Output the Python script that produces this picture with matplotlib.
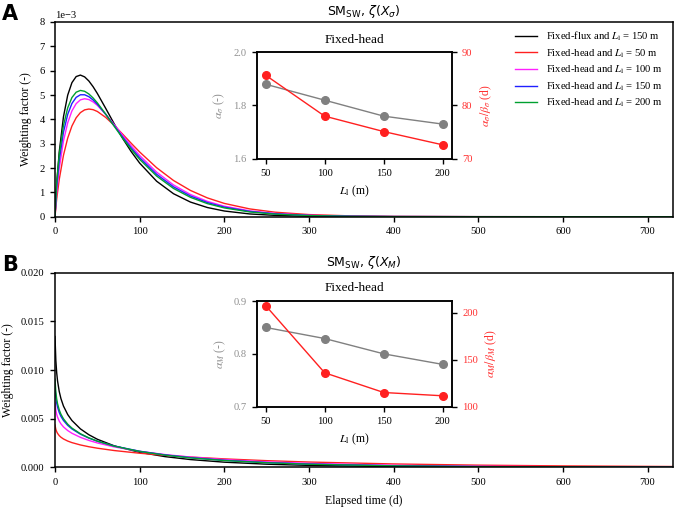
import numpy as np
import matplotlib
matplotlib.use("Agg")
import matplotlib.pyplot as plt

plt.rcParams["font.family"] = ["Liberation Serif", "DejaVu Serif"]
plt.rcParams["mathtext.fontset"] = "stix"

# ---------------- data (weighting factors in units of 1e-3) ----------------
t_A = [0, 2, 5, 10, 15, 20, 25, 30, 35, 40, 45, 50, 60, 70, 80, 90, 100, 120, 140,
       160, 180, 200, 230, 260, 300, 350, 400, 500, 600, 730]
A_flux150 = [0.000, 1.352, 2.659, 4.106, 4.994, 5.508, 5.758, 5.819, 5.745, 5.576,
             5.341, 5.064, 4.445, 3.812, 3.214, 2.675, 2.203, 1.459, 0.944, 0.601,
             0.377, 0.234, 0.113, 0.054, 0.020, 0.005, 0.001, 0.000, 0.000, 0.000]
A_head50 = [0.000, 0.729, 1.529, 2.522, 3.229, 3.727, 4.065, 4.277, 4.390, 4.424,
            4.398, 4.324, 4.077, 3.750, 3.388, 3.018, 2.659, 2.014, 1.488, 1.079,
            0.772, 0.546, 0.320, 0.185, 0.087, 0.033, 0.013, 0.002, 0.000, 0.000]
A_head100 = [0.000, 1.001, 1.979, 3.110, 3.859, 4.347, 4.645, 4.801, 4.847, 4.813,
             4.717, 4.576, 4.208, 3.782, 3.341, 2.914, 2.516, 1.832, 1.304, 0.912,
             0.630, 0.431, 0.240, 0.132, 0.058, 0.021, 0.007, 0.001, 0.000, 0.000]
A_head150 = [0.000, 1.233, 2.306, 3.473, 4.204, 4.653, 4.904, 5.010, 5.010, 4.932,
             4.797, 4.622, 4.200, 3.736, 3.271, 2.830, 2.425, 1.743, 1.227, 0.850,
             0.581, 0.394, 0.217, 0.118, 0.051, 0.018, 0.006, 0.001, 0.000, 0.000]
A_head200 = [0.000, 1.400, 2.545, 3.747, 4.472, 4.897, 5.116, 5.188, 5.153, 5.043,
             4.878, 4.677, 4.210, 3.712, 3.225, 2.769, 2.356, 1.671, 1.161, 0.795,
             0.538, 0.361, 0.195, 0.105, 0.045, 0.015, 0.005, 0.001, 0.000, 0.000]

t_B = [0, 1, 2, 3, 5, 7, 10, 15, 20, 30, 40, 50, 70, 100, 130, 160, 200, 250, 300,
       400, 500, 600, 730]
B_flux150 = [13.446, 10.977, 9.713, 8.883, 7.792, 7.064, 6.293, 5.423, 4.809, 3.950,
             3.346, 2.883, 2.204, 1.535, 1.097, 0.795, 0.526, 0.319, 0.195, 0.075,
             0.029, 0.012, 0.003]
B_head50 = [4.346, 3.901, 3.656, 3.487, 3.255, 3.092, 2.912, 2.697, 2.537, 2.297,
            2.114, 1.964, 1.722, 1.445, 1.229, 1.054, 0.865, 0.682, 0.541, 0.344,
            0.221, 0.143, 0.081]
B_head100 = [6.650, 5.871, 5.444, 5.152, 4.748, 4.466, 4.152, 3.778, 3.498, 3.079,
             2.762, 2.503, 2.094, 1.642, 1.308, 1.052, 0.793, 0.563, 0.403, 0.208,
             0.109, 0.057, 0.025]
B_head150 = [8.334, 7.205, 6.598, 6.186, 5.625, 5.237, 4.812, 4.312, 3.944, 3.404,
             3.002, 2.681, 2.183, 1.651, 1.272, 0.991, 0.718, 0.485, 0.330, 0.156,
             0.074, 0.036, 0.014]
B_head200 = [9.057, 7.722, 7.014, 6.538, 5.897, 5.458, 4.984, 4.432, 4.031, 3.450,
             3.025, 2.689, 2.174, 1.631, 1.249, 0.968, 0.697, 0.468, 0.317, 0.148,
             0.070, 0.033, 0.013]

L_l = [50, 100, 150, 200]
alpha_sigma = [1.88, 1.82, 1.76, 1.73]
mean_sigma = [85.7, 78.0, 75.1, 72.6]
alpha_M = [0.850, 0.829, 0.800, 0.780]
mean_M = [207.7, 136.1, 115.1, 111.6]

legend_labels = [r"Fixed-flux and $L_\mathrm{l}$ = 150 m",
                 r"Fixed-head and $L_\mathrm{l}$ = 50 m",
                 r"Fixed-head and $L_\mathrm{l}$ = 100 m",
                 r"Fixed-head and $L_\mathrm{l}$ = 150 m",
                 r"Fixed-head and $L_\mathrm{l}$ = 200 m"]
colors = ["black", "#ff2020", "#ff20ff", "#2020ff", "#00a030"]

# ---------------- figure ----------------
W, H = 676, 509
fig = plt.figure(figsize=(W / 100, H / 100), dpi=100)

def px_axes(l, t, r, b):
    return [l / W, 1 - b / H, (r - l) / W, (b - t) / H]

TICK = 7.6
LAB = 8.5
axA = fig.add_axes(px_axes(55, 22, 673, 216.7))
axB = fig.add_axes(px_axes(55, 272.7, 673, 467.3))

seriesA = [A_flux150, A_head50, A_head100, A_head150, A_head200]
seriesB = [B_flux150, B_head50, B_head100, B_head150, B_head200]
for ax, tt, ser in [(axA, t_A, seriesA), (axB, t_B, seriesB)]:
    for y, c, lab in zip(ser, colors, legend_labels):
        ax.plot(tt, np.array(y) * 1e-3, color=c, lw=1.0, label=lab)
    ax.set_xlim(0, 730)
    ax.set_xticks([0, 100, 200, 300, 400, 500, 600, 700])
    ax.tick_params(direction="out", length=3.5, width=1.0, labelsize=TICK, pad=4)
    for s in ax.spines.values():
        s.set_linewidth(1.1)
    ax.set_ylabel("Weighting factor (-)", fontsize=LAB, labelpad=5)

axA.set_ylim(0, 8e-3)
axA.set_yticks(np.arange(0, 9) * 1e-3)
axA.ticklabel_format(axis="y", style="sci", scilimits=(-3, -3))
axA.yaxis.get_offset_text().set_fontsize(TICK)
axB.set_ylim(0, 0.02)
axB.set_yticks([0, 0.005, 0.010, 0.015, 0.020])
axB.set_yticklabels(["0.000", "0.005", "0.010", "0.015", "0.020"])
axB.set_xlabel("Elapsed time (d)", fontsize=LAB, labelpad=6)

axA.set_title(r"SM$_\mathrm{SW}$, $\zeta(X_\sigma)$", fontsize=9, pad=5,
              family="DejaVu Sans", math_fontfamily="dejavusans")
axB.set_title(r"SM$_\mathrm{SW}$, $\zeta(X_M)$", fontsize=9, pad=5,
              family="DejaVu Sans", math_fontfamily="dejavusans")

axA.legend(loc="upper right", bbox_to_anchor=(1.0, 1.01), frameon=False,
           fontsize=7.7, handlelength=2.1, handletextpad=0.85, labelspacing=0.38)

fig.text(2 / W, 1 - 4 / H, "A", fontsize=15, weight="bold", va="top", family="DejaVu Sans")
fig.text(2 / W, 1 - 255 / H, "B", fontsize=15, weight="bold", va="top", family="DejaVu Sans")

# ---------------- insets ----------------
def inset(rect, a, m, ylimL, yticksL, ylimR, yticksR, lab_l, lab_r):
    ax = fig.add_axes(rect)
    ax2 = ax.twinx()
    ax.plot(L_l, a, "o-", color="#808080", ms=5.5, lw=1.0)
    ax2.plot(L_l, m, "o-", color="#ff2020", ms=5.5, lw=1.0)
    ax.set_xlim(42.5, 207.5)
    ax.set_xticks(L_l)
    ax.set_ylim(*ylimL)
    ax.set_yticks(yticksL)
    ax2.set_ylim(*ylimR)
    ax2.set_yticks(yticksR)
    ax.tick_params(direction="out", length=3.5, width=1.0, labelsize=TICK, pad=4)
    ax.tick_params(axis="y", labelcolor="#909090")
    ax2.tick_params(direction="out", length=3.5, width=1.0, labelsize=TICK, labelcolor="#ff3030", pad=4)
    for s in list(ax.spines.values()) + list(ax2.spines.values()):
        s.set_linewidth(1.1)
    ax.set_ylabel(lab_l, color="#909090", fontsize=LAB, labelpad=4)
    ax2.set_ylabel(lab_r, color="#ff3030", fontsize=LAB, labelpad=4)
    ax.set_xlabel(r"$L_\mathrm{l}$ (m)", fontsize=LAB, labelpad=4)
    ax.set_title("Fixed-head", fontsize=9.5, pad=7)
    return ax

inset(px_axes(256.7, 52.3, 451.7, 158.7), alpha_sigma, mean_sigma,
      (1.6, 2.0), [1.6, 1.8, 2.0], (70, 90), [70, 80, 90],
      r"$\alpha_\sigma$ (-)", r"$\alpha_\sigma/\beta_\sigma$ (d)")
inset(px_axes(256.7, 301, 451.7, 406.7), alpha_M, mean_M,
      (0.7, 0.9), [0.7, 0.8, 0.9], (100, 212.5), [100, 150, 200],
      r"$\alpha_M$ (-)", r"$\alpha_M/\beta_M$ (d)")

fig.savefig("out.png", dpi=100)
